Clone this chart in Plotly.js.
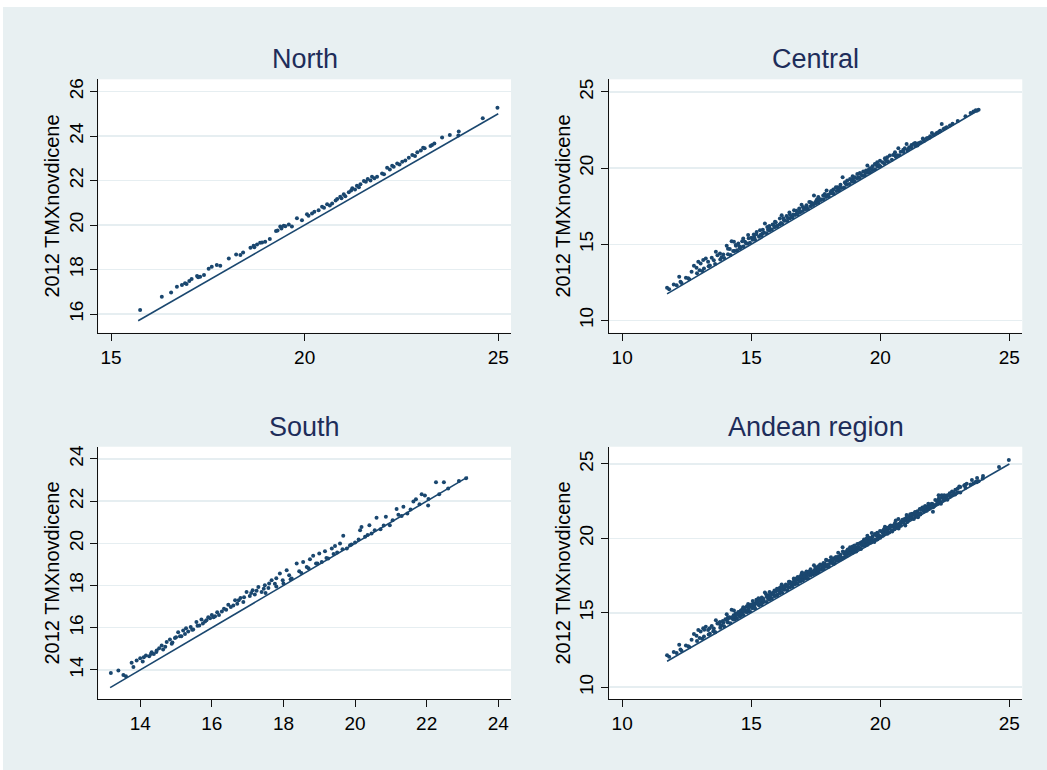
<!DOCTYPE html>
<html>
<head>
<meta charset="utf-8">
<script src="https://cdn.plot.ly/plotly-3.0.1.min.js"></script>
<style>
  html, body { margin: 0; padding: 0; background: #ffffff; }
  #chart { position: absolute; left: 3px; top: 7px; width: 1044px; height: 763px; }
</style>
</head>
<body>
<div id="chart"></div>
<script>
// ---------------- DATA ----------------
const panelTitles = ["North", "Central", "South", "Andean region"];
const yAxisLabel = "2012 TMXnovdicene";

const northX = [15.75,16.31,16.55,16.7,16.83,16.91,17.02,17.08,17.22,17.3,17.4,17.52,17.6,17.73,17.82,18.04,18.23,18.34,18.41,18.6,18.68,18.77,18.9,18.98,19.1,19.26,19.37,19.46,19.59,19.67,19.8,19.93,20.06,20.19,20.36,20.45,20.58,20.71,20.84,20.92,21.01,21.14,21.23,21.35,21.44,21.53,21.63,21.74,21.87,22.0,22.13,22.26,22.39,22.52,22.69,22.78,22.91,23.06,23.29,23.35,23.55,23.75,23.98,23.97,24.6,24.98,
  19.3,19.4,19.5,20.1,20.25,20.5,20.65,20.8,20.95,21.05,21.2,21.3,21.4,21.58,21.7,21.8,22.05,22.2,22.3,22.45,22.6,22.85,23.0,23.1,23.25,18.85,18.7,17.25,16.95];
const northY = [16.18,16.78,16.97,17.23,17.3,17.38,17.48,17.57,17.71,17.68,17.76,18.03,18.13,18.2,18.17,18.5,18.68,18.65,18.77,18.98,19.07,19.13,19.22,19.25,19.37,19.73,19.93,19.97,20.03,19.93,20.3,20.22,20.48,20.52,20.67,20.82,20.93,20.97,21.17,21.27,21.38,21.47,21.65,21.77,21.83,21.98,22.07,22.17,22.17,22.32,22.58,22.67,22.77,22.85,23.03,23.15,23.27,23.48,23.6,23.67,23.93,24.05,24.2,24.02,24.8,25.27,
  19.75,19.85,19.95,20.42,20.6,20.78,20.88,21.1,21.2,21.3,21.55,21.6,21.7,21.95,22.0,22.1,22.28,22.5,22.62,22.72,22.9,23.1,23.35,23.45,23.55,19.2,19.0,17.65,17.35];

const centralX = [11.74,11.82,12.0,12.11,12.21,12.26,12.47,12.56,12.69,12.78,12.88,12.95,13.04,13.14,13.24,13.33,13.17,13.47,13.63,13.69,13.79,13.92,14.05,14.17,14.24,14.33,14.41,14.5,14.56,14.69,14.76,14.88,15.01,15.1,15.21,15.34,15.44,15.53,15.62,15.72,15.83,15.92,16.01,16.11,16.18,16.27,16.37,16.48,16.57,16.66,16.76,16.86,16.95,17.04,17.14,17.25,17.34,17.43,17.51,17.6,17.69,17.79,17.92,17.99,18.08,18.18,18.28,18.37,18.46,18.54,18.63,18.72,18.83,18.93,19.02,19.11,19.21,19.34,19.45,19.5,19.6,19.7,19.79,19.88,19.99,20.09,20.18,20.27,20.37,20.5,20.57,20.7,20.79,20.89,21.02,21.12,21.21,21.35,21.44,21.57,21.67,21.8,21.93,22.06,22.19,22.32,22.38,22.45,22.57,23.61,23.74,23.81,
  12.3,12.6,12.9,13.1,13.4,13.6,13.8,13.95,14.1,14.2,14.35,14.45,14.6,14.7,14.85,14.95,15.05,15.15,15.3,15.4,15.5,15.6,15.7,15.8,15.9,16.0,16.1,16.2,16.3,16.4,16.5,16.6,16.7,16.8,16.9,17.0,17.1,17.2,17.3,17.4,17.5,17.6,17.7,17.8,17.9,18.0,18.1,18.2,18.3,18.4,18.5,18.6,18.7,18.8,18.9,19.0,19.1,19.2,19.3,19.4,19.5,19.6,19.7,19.8,19.9,20.0,20.15,20.3,20.45,20.6,20.75,20.9,21.05,21.2,21.35,21.5,21.7,21.9,22.1,22.3,22.5,22.7,23.0,23.3,23.5,23.7,
  14.1,14.4,14.65,14.9,15.2,15.45,15.7,15.95,16.25,16.5,16.75,17.0,17.3,17.55,17.85,18.1,18.35,18.65,18.95,19.25,19.55,19.85,20.2,20.55,20.95,21.3,21.65,22.0,
  13.0,13.35,13.55,13.85,14.3,14.55,14.8,15.12,15.37,15.65,15.88,16.15,16.42,16.63,16.88,17.15,17.38,17.65,17.88,18.15,18.42,18.68,18.88,19.15,19.42,19.68,19.95,20.25,20.65,21.1,21.45,21.85,22.25,22.8];
const centralY = [12.14,12.05,12.36,12.3,12.86,12.54,12.8,12.76,13.19,13.58,13.45,13.85,13.74,13.96,14.07,13.85,13.41,14.11,14.5,14.28,14.39,14.33,14.9,14.68,15.2,15.16,14.9,15.05,14.73,15.38,15.16,15.6,15.42,15.64,15.81,15.92,15.7,16.36,16.14,16.03,16.29,16.47,16.21,16.69,16.9,16.58,16.86,17.08,16.8,17.23,17.01,17.34,17.6,17.38,17.56,17.78,17.67,18.2,17.82,18.1,17.95,18.2,18.53,18.25,18.42,18.6,18.75,18.53,18.9,19.4,19.07,19.18,19.29,19.46,19.4,19.62,19.68,19.77,19.84,20.17,19.99,20.12,20.27,20.38,20.49,20.38,20.64,20.71,20.82,20.86,21.04,21.3,21.08,21.21,21.58,21.37,21.52,21.65,21.48,21.7,21.87,21.96,22.09,22.18,22.31,22.46,22.9,22.57,22.68,23.71,23.77,23.84,
  12.45,12.7,13.1,13.25,13.6,13.7,14.0,14.1,14.35,14.3,14.55,14.6,14.8,14.85,15.05,15.1,15.3,15.3,15.5,15.55,15.75,15.72,15.9,15.95,16.12,16.15,16.3,16.35,16.55,16.52,16.7,16.75,16.92,16.95,17.1,17.18,17.3,17.32,17.5,17.58,17.7,17.72,17.9,17.95,18.1,18.15,18.35,18.3,18.5,18.55,18.7,18.72,18.9,18.95,19.1,19.12,19.3,19.35,19.5,19.52,19.7,19.72,19.88,19.92,20.1,20.12,20.3,20.45,20.55,20.75,20.85,21.05,21.15,21.35,21.45,21.65,21.8,22.0,22.2,22.4,22.62,22.8,23.1,23.4,23.62,23.8,
  14.7,14.95,15.2,15.4,15.65,15.95,16.2,16.45,16.7,16.95,17.2,17.45,17.75,17.95,18.3,18.5,18.75,19.0,19.3,19.6,19.9,20.2,20.55,20.9,21.3,21.6,21.95,22.3,
  13.3,13.55,13.95,14.15,14.55,14.85,15.05,15.45,15.62,15.95,16.25,16.4,16.72,16.95,17.15,17.45,17.7,17.9,18.2,18.4,18.72,18.95,19.2,19.4,19.7,19.9,20.2,20.45,20.85,21.25,21.6,21.98,22.35,22.92];

const southX = [13.18,13.39,13.53,13.6,13.76,13.81,13.9,14.0,14.07,14.16,14.25,14.32,14.38,14.46,14.53,14.6,14.64,14.74,14.83,14.88,14.97,15.06,15.11,15.2,15.28,15.34,15.41,15.48,15.57,15.65,15.71,15.81,15.9,16.0,16.09,16.15,16.28,16.34,16.46,16.53,16.65,16.71,16.8,16.88,16.97,17.06,17.14,17.2,17.3,17.39,17.48,17.58,17.67,17.76,17.9,17.98,18.09,18.16,18.23,18.37,18.44,18.55,18.65,18.74,18.83,18.91,19.0,19.07,19.16,19.25,19.35,19.44,19.5,19.58,19.67,19.77,19.86,20.0,20.14,20.18,20.28,20.4,20.46,20.6,20.71,20.86,20.97,21.16,21.21,21.35,21.46,21.63,21.7,21.86,21.95,22.04,22.26,22.35,22.48,23.1,
  17.5,17.8,18.0,18.2,18.5,18.7,18.95,19.2,19.4,19.65,19.9,20.1,20.35,20.55,20.8,21.05,21.3,21.55,21.8,22.05,22.6,22.9,
  14.1,14.3,14.45,14.7,14.9,15.0,15.15,15.25,15.45,15.6,15.75,15.85,15.95,16.05,16.2,16.4,16.6,16.75,16.9,17.1,17.25,17.45,17.6,17.8];
const southY = [13.86,13.97,13.76,13.7,14.34,14.14,14.45,14.56,14.4,14.69,14.65,14.84,14.76,14.92,15.03,15.16,14.97,15.32,15.44,15.24,15.51,15.79,15.6,15.87,15.98,15.82,16.03,15.92,16.27,16.11,16.39,16.3,16.5,16.61,16.55,16.74,16.77,16.9,17.09,16.98,17.3,17.14,17.41,17.22,17.7,17.51,17.78,17.57,17.93,17.7,18.01,17.88,18.25,18.09,18.57,18.25,18.73,18.49,18.33,19.04,18.68,19.12,18.88,19.25,19.41,19.04,19.52,19.12,19.63,19.28,19.76,19.88,19.57,19.99,20.36,19.76,19.91,20.04,20.62,20.78,20.31,20.86,20.47,21.21,20.67,21.26,20.86,21.63,21.35,21.74,21.42,21.98,22.09,22.33,22.27,21.79,22.9,22.33,22.9,23.08,
  17.65,17.95,18.1,18.3,18.6,18.82,19.05,19.3,19.5,19.72,19.95,20.18,20.4,20.62,20.85,21.1,21.3,21.6,21.85,22.1,22.6,22.95,
  14.6,14.75,14.85,15.1,15.3,15.55,15.6,15.7,15.9,16.1,16.2,16.35,16.45,16.5,16.6,16.85,17.05,17.3,17.45,17.65,17.75,17.85,18.1,18.35];

// Andean region pools every municipality of the three regions
const andeanX = northX.concat(centralX, southX);
const andeanY = northY.concat(centralY, southY);

// 45-degree reference line endpoints (x = y)
const northLine = [15.7, 25.0];
const centralLine = [11.74, 23.8];
const southLine = [13.16, 23.15];
const andeanLine = [11.74, 25.0];

// ticks
const northXTicks = [15, 20, 25];
const northYTicks = [16, 18, 20, 22, 24, 26];
const centralXTicks = [10, 15, 20, 25];
const centralYTicks = [10, 15, 20, 25];
const southXTicks = [14, 16, 18, 20, 22, 24];
const southYTicks = [14, 16, 18, 20, 22, 24];
const andeanXTicks = [10, 15, 20, 25];
const andeanYTicks = [10, 15, 20, 25];

// ---------------- STYLE ----------------
const NAVY = "#1a476f";
const BG = "#e8f0f2";
const GRID = "#e6eef1";
const FONT = "Liberation Sans, Arial, Helvetica, sans-serif";

function pts(x, y, xa, ya) {
  return {type: "scatter", mode: "markers", x: x, y: y, xaxis: xa, yaxis: ya,
    marker: {color: NAVY, size: 4, line: {width: 0}}, hoverinfo: "skip", showlegend: false};
}
function line(l, xa, ya) {
  return {type: "scatter", mode: "lines", x: l, y: l, xaxis: xa, yaxis: ya,
    line: {color: NAVY, width: 1.6}, hoverinfo: "skip", showlegend: false};
}

const data = [
  pts(northX, northY, "x", "y"), line(northLine, "x", "y"),
  pts(centralX, centralY, "x2", "y2"), line(centralLine, "x2", "y2"),
  pts(southX, southY, "x3", "y3"), line(southLine, "x3", "y3"),
  pts(andeanX, andeanY, "x4", "y4"), line(andeanLine, "x4", "y4")
];

function xax(domain, range, ticks, anchor) {
  return {domain: domain, range: range, tickvals: ticks, ticktext: ticks.map(String), anchor: anchor,
    showgrid: false, zeroline: false, showline: true, linecolor: "#111", linewidth: 1.2,
    ticks: "outside", ticklen: 7, tickwidth: 1, tickcolor: "#111",
    tickfont: {family: FONT, size: 19, color: "#000"}, fixedrange: true};
}
function yax(domain, range, ticks, anchor) {
  return {domain: domain, range: range, tickvals: ticks, ticktext: ticks.map(String), anchor: anchor,
    showgrid: true, gridcolor: GRID, gridwidth: 1.5, zeroline: false, showline: true, linecolor: "#111", linewidth: 1.2,
    ticks: "outside", ticklen: 7, tickwidth: 1, tickcolor: "#111", tickangle: -90,
    tickfont: {family: FONT, size: 19, color: "#000"},
    title: {text: yAxisLabel, font: {family: FONT, size: 20, color: "#000"}, standoff: 0},
    fixedrange: true};
}

const LX = [0.0913, 0.4866], RX = [0.5807, 0.9763];
const TY = [0.5731, 0.9052], BY = [0.0927, 0.4237];

const titleFont = {family: FONT, size: 27, color: "#1e2d5a"};
const layout = {
  width: 1044, height: 763,
  margin: {l: 0, r: 0, t: 0, b: 0},
  paper_bgcolor: BG, plot_bgcolor: "#ffffff",
  showlegend: false,
  xaxis: xax(LX, [14.67, 25.33], northXTicks, "y"),
  yaxis: yax(TY, [15.16, 26.55], northYTicks, "x"),
  xaxis2: xax(RX, [9.5, 25.5], centralXTicks, "y2"),
  yaxis2: yax(TY, [9.19, 25.83], centralYTicks, "x2"),
  xaxis3: xax(LX, [12.83, 24.355], southXTicks, "y3"),
  yaxis3: yax(BY, [12.61, 24.58], southYTicks, "x3"),
  xaxis4: xax(RX, [9.5, 25.5], andeanXTicks, "y4"),
  yaxis4: yax(BY, [9.19, 26.16], andeanYTicks, "x4"),
  annotations: [
    {text: panelTitles[0], x: (LX[0] + LX[1]) / 2, y: 0.9318, xref: "paper", yref: "paper", showarrow: false, xanchor: "center", yanchor: "middle", font: titleFont},
    {text: panelTitles[1], x: (RX[0] + RX[1]) / 2, y: 0.9318, xref: "paper", yref: "paper", showarrow: false, xanchor: "center", yanchor: "middle", font: titleFont},
    {text: panelTitles[2], x: (LX[0] + LX[1]) / 2, y: 0.4495, xref: "paper", yref: "paper", showarrow: false, xanchor: "center", yanchor: "middle", font: titleFont},
    {text: panelTitles[3], x: (RX[0] + RX[1]) / 2, y: 0.4495, xref: "paper", yref: "paper", showarrow: false, xanchor: "center", yanchor: "middle", font: titleFont}
  ]
};

Plotly.newPlot("chart", data, layout, {displayModeBar: false, staticPlot: true});
</script>
</body>
</html>
